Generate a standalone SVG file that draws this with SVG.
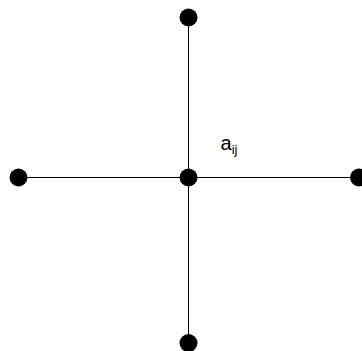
<svg xmlns="http://www.w3.org/2000/svg" width="362" height="351" viewBox="0 0 362 351">
<style>
.edge{stroke:#000;stroke-width:1;fill:none}
.dot{fill:#000}
.lbl{font-family:"Liberation Sans",Arial,sans-serif;fill:#000}
</style>
<rect width="362" height="351" fill="#fff"/>
<g id="connectors">
<line class="edge" x1="18.5" y1="177.5" x2="358.5" y2="177.5"/>
<line class="edge" x1="188.5" y1="17.5" x2="188.5" y2="343"/>
</g>
<g id="node-top"><circle class="dot" cx="188.5" cy="17.5" r="9"/></g>
<g id="node-left"><circle class="dot" cx="18.5" cy="177.5" r="9"/></g>
<g id="node-center"><circle class="dot" cx="188.5" cy="177.5" r="9"/></g>
<g id="node-right"><circle class="dot" cx="359" cy="177.5" r="9"/></g>
<g id="node-bottom"><circle class="dot" cx="188.5" cy="343" r="9"/></g>
<g id="label"><text class="lbl" x="220.5" y="150" font-size="20">a<tspan font-size="13" dy="4">ij</tspan></text></g>
</svg>
